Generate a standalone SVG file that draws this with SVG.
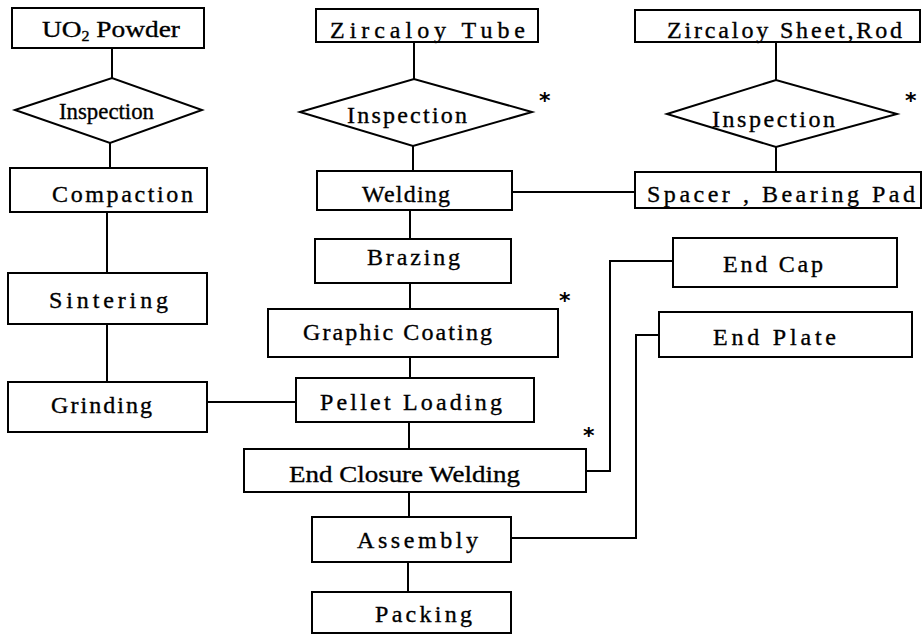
<svg xmlns="http://www.w3.org/2000/svg" width="924" height="637" viewBox="0 0 924 637">
  <style>
    .box { fill: #fff; stroke: #000; stroke-width: 2; }
    .link { fill: none; stroke: #000; stroke-width: 2; }
    .lbl { font-family: "Liberation Serif", "DejaVu Serif", serif; font-size: 24px; fill: #000; stroke: #000; stroke-width: 0.35; }
    .star { font-family: "DejaVu Sans", sans-serif; font-size: 22px; font-weight: bold; fill: #000; }
  </style>
  <rect width="924" height="637" fill="#fff"/>

  <!-- connectors -->
  <g id="connectors">
    <line class="link" x1="112" y1="48" x2="112" y2="78"/>
    <line class="link" x1="110" y1="143" x2="110" y2="168"/>
    <line class="link" x1="107" y1="212" x2="107" y2="273"/>
    <line class="link" x1="107" y1="324" x2="107" y2="382"/>
    <line class="link" x1="207" y1="402" x2="296" y2="402"/>
    <line class="link" x1="414" y1="42" x2="414" y2="79"/>
    <line class="link" x1="413" y1="146" x2="413" y2="171"/>
    <line class="link" x1="410" y1="210" x2="410" y2="239"/>
    <line class="link" x1="410" y1="283" x2="410" y2="309"/>
    <line class="link" x1="410" y1="357" x2="410" y2="378"/>
    <line class="link" x1="409" y1="422" x2="409" y2="449"/>
    <line class="link" x1="409" y1="492" x2="409" y2="517"/>
    <line class="link" x1="408" y1="562" x2="408" y2="592"/>
    <line class="link" x1="512" y1="192" x2="635" y2="192"/>
    <line class="link" x1="776" y1="42" x2="776" y2="80"/>
    <line class="link" x1="776" y1="147" x2="776" y2="172"/>
    <polyline class="link" points="673,261 610,261 610,471 586,471"/>
    <polyline class="link" points="659,335 636,335 636,538 511,538"/>
  </g>

  <!-- fuel pellet line -->
  <g id="uo2-powder">
    <rect class="box" x="12" y="8" width="192" height="40"/>
    <text class="lbl" x="42" y="37" font-size="23" textLength="138" lengthAdjust="spacingAndGlyphs">UO<tspan font-size="14" dy="4">2</tspan><tspan dy="-4"> Powder</tspan></text>
  </g>
  <g id="inspection-powder">
    <polygon class="box" points="15,110 112,78 202,110 110,143"/>
    <text class="lbl" x="59" y="119" font-size="24" textLength="95" lengthAdjust="spacingAndGlyphs">Inspection</text>
  </g>
  <g id="compaction">
    <rect class="box" x="10" y="168" width="197" height="44"/>
    <text class="lbl" x="52" y="202" font-size="26" textLength="141" lengthAdjust="spacing">Compaction</text>
  </g>
  <g id="sintering">
    <rect class="box" x="8" y="273" width="199" height="51"/>
    <text class="lbl" x="49" y="308" font-size="26" textLength="119" lengthAdjust="spacing">Sintering</text>
  </g>
  <g id="grinding">
    <rect class="box" x="8" y="382" width="199" height="50"/>
    <text class="lbl" x="51" y="413" font-size="26" textLength="101" lengthAdjust="spacing">Grinding</text>
  </g>

  <!-- cladding tube line -->
  <g id="zircaloy-tube">
    <rect class="box" x="316" y="9" width="222" height="33"/>
    <text class="lbl" x="330" y="38" font-size="22" textLength="195" lengthAdjust="spacing">Zircaloy Tube</text>
  </g>
  <g id="inspection-tube">
    <polygon class="box" points="300,112 414,79 532,112 413,146"/>
    <text class="lbl" x="347" y="123" font-size="23" textLength="120" lengthAdjust="spacing">Inspection</text>
    <text class="star" x="539" y="108">*</text>
  </g>
  <g id="welding">
    <rect class="box" x="317" y="171" width="195" height="39"/>
    <text class="lbl" x="362" y="202" font-size="24" textLength="88" lengthAdjust="spacing">Welding</text>
  </g>
  <g id="brazing">
    <rect class="box" x="315" y="239" width="196" height="44"/>
    <text class="lbl" x="367" y="265" font-size="25" textLength="93" lengthAdjust="spacing">Brazing</text>
  </g>
  <g id="graphic-coating">
    <rect class="box" x="268" y="309" width="290" height="48"/>
    <text class="lbl" x="303" y="340" font-size="25" textLength="189" lengthAdjust="spacing">Graphic Coating</text>
    <text class="star" x="559" y="308">*</text>
  </g>
  <g id="pellet-loading">
    <rect class="box" x="296" y="378" width="238" height="44"/>
    <text class="lbl" x="320" y="410" font-size="25" textLength="182" lengthAdjust="spacing">Pellet Loading</text>
  </g>
  <g id="end-closure-welding">
    <rect class="box" x="244" y="449" width="342" height="43"/>
    <text class="lbl" x="289" y="482" font-size="24" textLength="231" lengthAdjust="spacingAndGlyphs">End Closure Welding</text>
    <text class="star" x="583" y="443">*</text>
  </g>
  <g id="assembly">
    <rect class="box" x="312" y="517" width="199" height="45"/>
    <text class="lbl" x="357" y="548" font-size="25" textLength="121" lengthAdjust="spacing">Assembly</text>
  </g>
  <g id="packing">
    <rect class="box" x="312" y="592" width="199" height="41"/>
    <text class="lbl" x="375" y="622" font-size="25" textLength="97" lengthAdjust="spacing">Packing</text>
  </g>

  <!-- structural parts line -->
  <g id="zircaloy-sheet-rod">
    <rect class="box" x="635" y="10" width="285" height="32"/>
    <text class="lbl" x="667" y="38" font-size="22" textLength="235" lengthAdjust="spacing">Zircaloy Sheet,Rod</text>
  </g>
  <g id="inspection-sheet">
    <polygon class="box" points="667,114 776,80 897,114 776,147"/>
    <text class="lbl" x="712" y="127" font-size="23" textLength="123" lengthAdjust="spacing">Inspection</text>
    <text class="star" x="905" y="108">*</text>
  </g>
  <g id="spacer-bearing-pad">
    <rect class="box" x="635" y="172" width="286" height="36"/>
    <text class="lbl" x="647" y="202" font-size="24" textLength="268" lengthAdjust="spacing">Spacer , Bearing Pad</text>
  </g>
  <g id="end-cap">
    <rect class="box" x="673" y="238" width="224" height="49"/>
    <text class="lbl" x="723" y="272" font-size="25" textLength="100" lengthAdjust="spacing">End Cap</text>
  </g>
  <g id="end-plate">
    <rect class="box" x="659" y="312" width="253" height="45"/>
    <text class="lbl" x="713" y="345" font-size="25" textLength="123" lengthAdjust="spacing">End Plate</text>
  </g>
</svg>
